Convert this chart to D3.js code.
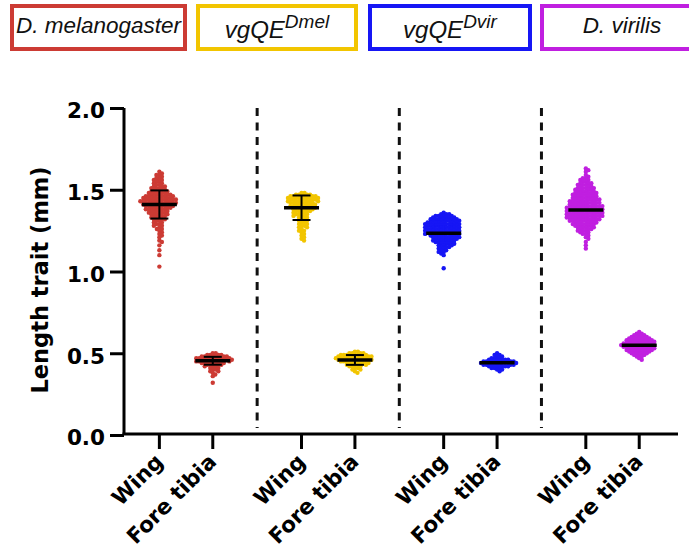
<!DOCTYPE html>
<html><head><meta charset="utf-8">
<script src="https://cdn.jsdelivr.net/npm/d3@7"></script>
<style>body{margin:0;background:#fff}svg{display:block}</style>
</head><body><svg id="c" width="689" height="552"></svg>
<script>
// ---- data ----
const groups = ["Dmel", "vgQE_Dmel", "vgQE_Dvir", "Dvir"];
const legendBase = ["D. melanogaster", "vgQE", "vgQE", "D. virilis"];
const legendSup = ["", "Dmel", "Dvir", ""];
const traits = ["Wing", "Fore tibia"];
const colors = ["#cc3b34", "#f2c500", "#1616f5", "#c01fe0"];
const errColors = ["#000", "#000", "#1616f5", "#c01fe0"];
const yTicks = [0, 0.5, 1.0, 1.5, 2.0];

const wingDmel = [1.61,1.60,1.59,1.59,1.58,1.57,1.57,1.56,1.56,1.55,1.55,1.54,1.54,1.53,1.53,1.52,1.52,1.52,1.51,1.51,1.51,1.50,1.50,1.50,1.49,1.49,1.49,1.49,1.48,1.48,1.48,1.48,1.47,1.47,1.47,1.47,1.47,1.46,1.46,1.46,1.46,1.46,1.46,1.45,1.45,1.45,1.45,1.45,1.45,1.44,1.44,1.44,1.44,1.44,1.44,1.44,1.43,1.43,1.43,1.43,1.43,1.43,1.43,1.42,1.42,1.42,1.42,1.42,1.42,1.42,1.41,1.41,1.41,1.41,1.41,1.41,1.40,1.40,1.40,1.40,1.40,1.40,1.39,1.39,1.39,1.39,1.39,1.38,1.38,1.38,1.38,1.38,1.37,1.37,1.37,1.37,1.36,1.36,1.36,1.36,1.35,1.35,1.35,1.35,1.34,1.34,1.34,1.33,1.33,1.33,1.32,1.32,1.32,1.31,1.31,1.30,1.30,1.29,1.29,1.28,1.28,1.27,1.26,1.26,1.25,1.24,1.23,1.22,1.21,1.19,1.18,1.16,1.13,1.10,1.03];
const tibiaDmel = [0.50,0.50,0.49,0.49,0.49,0.49,0.48,0.48,0.48,0.48,0.48,0.48,0.47,0.47,0.47,0.47,0.47,0.47,0.47,0.46,0.46,0.46,0.46,0.46,0.46,0.46,0.45,0.45,0.45,0.45,0.45,0.45,0.45,0.44,0.44,0.44,0.44,0.44,0.43,0.43,0.43,0.43,0.42,0.42,0.42,0.41,0.41,0.40,0.40,0.39,0.39,0.38,0.37,0.36,0.32];
const wingVgDmel = [1.48,1.48,1.47,1.47,1.47,1.47,1.46,1.46,1.46,1.46,1.46,1.46,1.45,1.45,1.45,1.45,1.45,1.45,1.44,1.44,1.44,1.44,1.44,1.44,1.43,1.43,1.43,1.43,1.43,1.43,1.42,1.42,1.42,1.42,1.42,1.41,1.41,1.41,1.41,1.41,1.40,1.40,1.40,1.40,1.40,1.39,1.39,1.39,1.39,1.39,1.38,1.38,1.38,1.38,1.37,1.37,1.37,1.37,1.36,1.36,1.36,1.35,1.35,1.35,1.34,1.34,1.34,1.33,1.33,1.32,1.32,1.31,1.31,1.30,1.30,1.29,1.29,1.28,1.28,1.27,1.27,1.26,1.25,1.25,1.24,1.23,1.22,1.21,1.20,1.19];
const tibiaVgDmel = [0.51,0.51,0.50,0.50,0.50,0.50,0.49,0.49,0.49,0.49,0.49,0.49,0.48,0.48,0.48,0.48,0.48,0.48,0.48,0.47,0.47,0.47,0.47,0.47,0.47,0.47,0.46,0.46,0.46,0.46,0.46,0.46,0.46,0.45,0.45,0.45,0.45,0.45,0.45,0.44,0.44,0.44,0.44,0.44,0.43,0.43,0.43,0.43,0.42,0.42,0.42,0.41,0.41,0.40,0.40,0.39,0.38];
const wingVgDvir = [1.36,1.35,1.35,1.35,1.34,1.34,1.34,1.34,1.33,1.33,1.33,1.33,1.33,1.32,1.32,1.32,1.32,1.32,1.32,1.31,1.31,1.31,1.31,1.31,1.31,1.30,1.30,1.30,1.30,1.30,1.30,1.30,1.29,1.29,1.29,1.29,1.29,1.29,1.29,1.28,1.28,1.28,1.28,1.28,1.28,1.28,1.27,1.27,1.27,1.27,1.27,1.27,1.27,1.26,1.26,1.26,1.26,1.26,1.26,1.26,1.25,1.25,1.25,1.25,1.25,1.25,1.25,1.24,1.24,1.24,1.24,1.24,1.24,1.24,1.23,1.23,1.23,1.23,1.23,1.23,1.23,1.22,1.22,1.22,1.22,1.22,1.22,1.21,1.21,1.21,1.21,1.21,1.21,1.20,1.20,1.20,1.20,1.20,1.19,1.19,1.19,1.19,1.19,1.18,1.18,1.18,1.18,1.17,1.17,1.17,1.17,1.16,1.16,1.16,1.15,1.15,1.15,1.14,1.14,1.13,1.13,1.12,1.12,1.11,1.10,1.02];
const tibiaVgDvir = [0.50,0.49,0.49,0.48,0.48,0.47,0.47,0.47,0.46,0.46,0.46,0.46,0.46,0.45,0.45,0.45,0.45,0.45,0.45,0.45,0.44,0.44,0.44,0.44,0.44,0.44,0.44,0.43,0.43,0.43,0.43,0.43,0.43,0.43,0.42,0.42,0.42,0.42,0.42,0.41,0.41,0.41,0.40,0.40,0.39];
const wingDvir = [1.63,1.62,1.61,1.59,1.58,1.57,1.57,1.56,1.56,1.55,1.55,1.54,1.54,1.54,1.53,1.53,1.53,1.52,1.52,1.52,1.51,1.51,1.51,1.51,1.50,1.50,1.50,1.50,1.49,1.49,1.49,1.49,1.48,1.48,1.48,1.48,1.48,1.47,1.47,1.47,1.47,1.47,1.46,1.46,1.46,1.46,1.46,1.45,1.45,1.45,1.45,1.45,1.44,1.44,1.44,1.44,1.44,1.44,1.43,1.43,1.43,1.43,1.43,1.43,1.42,1.42,1.42,1.42,1.42,1.42,1.41,1.41,1.41,1.41,1.41,1.41,1.40,1.40,1.40,1.40,1.40,1.40,1.40,1.39,1.39,1.39,1.39,1.39,1.39,1.39,1.38,1.38,1.38,1.38,1.38,1.38,1.38,1.37,1.37,1.37,1.37,1.37,1.37,1.37,1.36,1.36,1.36,1.36,1.36,1.36,1.36,1.35,1.35,1.35,1.35,1.35,1.35,1.35,1.34,1.34,1.34,1.34,1.34,1.34,1.34,1.33,1.33,1.33,1.33,1.33,1.33,1.33,1.32,1.32,1.32,1.32,1.32,1.32,1.31,1.31,1.31,1.31,1.31,1.31,1.30,1.30,1.30,1.30,1.30,1.29,1.29,1.29,1.29,1.29,1.28,1.28,1.28,1.28,1.27,1.27,1.27,1.27,1.26,1.26,1.26,1.25,1.25,1.25,1.24,1.24,1.23,1.23,1.22,1.21,1.20,1.18,1.16,1.14];
const tibiaDvir = [0.63,0.62,0.62,0.61,0.61,0.61,0.60,0.60,0.60,0.60,0.59,0.59,0.59,0.59,0.59,0.58,0.58,0.58,0.58,0.58,0.58,0.57,0.57,0.57,0.57,0.57,0.57,0.56,0.56,0.56,0.56,0.56,0.56,0.56,0.55,0.55,0.55,0.55,0.55,0.55,0.55,0.54,0.54,0.54,0.54,0.54,0.54,0.54,0.53,0.53,0.53,0.53,0.53,0.53,0.52,0.52,0.52,0.52,0.52,0.52,0.51,0.51,0.51,0.51,0.51,0.50,0.50,0.50,0.50,0.49,0.49,0.49,0.48,0.48,0.47,0.46];

const wingMeans = [1.41, 1.39, 1.234, 1.376];
const wingSD = [0.086, 0.075, 0.055, 0.09];
const tibiaMeans = [0.454, 0.459, 0.442, 0.549];
const tibiaSD = [0.024, 0.030, 0.020, 0.030];

const wingValues = [wingDmel, wingVgDmel, wingVgDvir, wingDvir];
const tibiaValues = [tibiaDmel, tibiaVgDmel, tibiaVgDvir, tibiaDvir];

// ---- layout ----
const svg = d3.select("#c");
const y = d3.scaleLinear().domain([0, 2]).range([435, 108]);
const xg = d3.scaleBand().domain(groups).range([115, 683.6]).padding(0);
const xi = d3.scalePoint().domain(traits).range([-26.7, 26.7]);
const xPos = (g, t) => xg(g) + xg.bandwidth() / 2 + xi(t);

const axisFont = "'DejaVu Sans', sans-serif";
const legendFont = "'Liberation Sans', Arial, sans-serif";

// legend
const legendX = [12, 198, 370, 542];
const legendW = [173, 158, 160, 160];
legendBase.forEach((b, i) => {
  svg.append("rect").attr("x", legendX[i]).attr("y", 6).attr("width", legendW[i]).attr("height", 43)
    .attr("fill", "none").attr("stroke", colors[i]).attr("stroke-width", 4);
  const t = svg.append("text").attr("x", legendX[i] + legendW[i] / 2)
    .attr("y", legendSup[i] ? 38 : 33).attr("text-anchor", "middle")
    .attr("font-family", legendFont).attr("font-style", "italic").attr("fill", "#111");
  t.append("tspan").attr("font-size", legendSup[i] ? 24 : 22.5).text(b);
  if (legendSup[i]) t.append("tspan").attr("font-size", 19).attr("dy", -10).text(legendSup[i]);
});

// dashed separators
groups.slice(1).forEach(g => {
  svg.append("line").attr("x1", xg(g)).attr("x2", xg(g)).attr("y1", 108).attr("y2", 428)
    .attr("stroke", "#111").attr("stroke-width", 3).attr("stroke-dasharray", "8,6.5");
});

// beeswarm dodge
function dodge(vals, d) {
  const pts = vals.map(v => ({ v, py: y(v), dx: 0 })).sort((a, b) => a.py - b.py);
  const placed = [];
  for (const p of pts) {
    const near = placed.filter(q => Math.abs(q.py - p.py) < d);
    const cands = [0];
    for (const q of near) {
      const s = Math.sqrt(d * d - (q.py - p.py) ** 2);
      cands.push(q.dx + s, q.dx - s);
    }
    cands.sort((a, b) => Math.abs(a) - Math.abs(b));
    for (const c of cands) {
      if (near.every(q => (q.dx - c) ** 2 + (q.py - p.py) ** 2 >= d * d - 1e-6)) { p.dx = c; break; }
    }
    placed.push(p);
  }
  return pts;
}

const series = [];
groups.forEach((g, i) => {
  series.push({ g, t: "Wing", vals: wingValues[i], mean: wingMeans[i], sd: wingSD[i], color: colors[i], ec: errColors[i] });
  series.push({ g, t: "Fore tibia", vals: tibiaValues[i], mean: tibiaMeans[i], sd: tibiaSD[i], color: colors[i], ec: errColors[i] });
});

series.forEach(s => {
  const cx = xPos(s.g, s.t);
  const pts = dodge(s.vals, 3.0);
  svg.append("g").selectAll("circle").data(pts).join("circle")
    .attr("cx", p => cx + p.dx).attr("cy", p => p.py).attr("r", 2.2).attr("fill", s.color);
});

series.forEach(s => {
  const cx = xPos(s.g, s.t);
  const g = svg.append("g");
  g.append("line").attr("x1", cx).attr("x2", cx).attr("y1", y(s.mean + s.sd)).attr("y2", y(s.mean - s.sd))
    .attr("stroke", s.ec).attr("stroke-width", 2);
  [s.mean + s.sd, s.mean - s.sd].forEach(v => {
    g.append("line").attr("x1", cx - 9).attr("x2", cx + 9).attr("y1", y(v)).attr("y2", y(v))
      .attr("stroke", s.ec).attr("stroke-width", 2);
  });
  g.append("line").attr("x1", cx - 17.5).attr("x2", cx + 17.5).attr("y1", y(s.mean)).attr("y2", y(s.mean))
    .attr("stroke", "#000").attr("stroke-width", 3.5);
});

// y axis
const yAxis = svg.append("g").attr("transform", "translate(124,0)")
  .call(d3.axisLeft(y).tickValues(yTicks).tickFormat(d3.format(".1f")).tickSize(14).tickPadding(5));
yAxis.select(".domain").attr("stroke", "#000").attr("stroke-width", 3).attr("d", "M0,108V435");
yAxis.selectAll(".tick line").attr("stroke", "#000").attr("stroke-width", 3);
yAxis.selectAll(".tick text").attr("font-family", axisFont).attr("font-weight", "bold")
  .attr("font-size", 21.5).attr("fill", "#000").attr("dy", "0.46em");

// x axis
svg.append("line").attr("x1", 122.5).attr("x2", 678).attr("y1", 434).attr("y2", 434)
  .attr("stroke", "#000").attr("stroke-width", 3);
series.forEach(s => {
  const cx = xPos(s.g, s.t);
  svg.append("line").attr("x1", cx).attr("x2", cx).attr("y1", 434).attr("y2", 449)
    .attr("stroke", "#000").attr("stroke-width", 3);
  svg.append("text").attr("transform", `translate(${cx + 5},463) rotate(-45)`)
    .attr("text-anchor", "end").attr("font-family", axisFont).attr("font-weight", "bold")
    .attr("font-size", 21.5).attr("fill", "#000").text(s.t);
});

// y label
svg.append("text").attr("transform", "translate(48,280) rotate(-90)").attr("text-anchor", "middle")
  .attr("font-family", axisFont).attr("font-weight", "bold").attr("font-size", 22.5).attr("fill", "#000")
  .text("Length trait (mm)");
</script></body></html>
